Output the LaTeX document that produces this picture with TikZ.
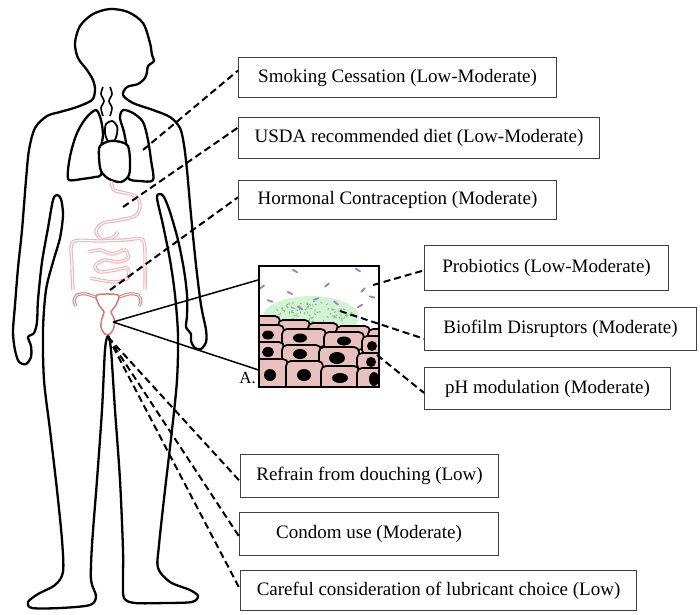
\documentclass[tikz,border=0pt]{standalone}
\usepackage{fontspec}
\setmainfont{Liberation Serif}
\usetikzlibrary{calc}
\definecolor{organ}{RGB}{214,120,120}
\definecolor{gutpink}{RGB}{236,180,180}
\definecolor{cellpink}{RGB}{232,192,190}
\definecolor{bact}{RGB}{150,128,205}
\definecolor{film}{RGB}{212,242,212}
\definecolor{filmdot}{RGB}{120,190,130}

\begin{document}
\begin{tikzpicture}[x=1pt,y=-1pt,
		body/.style={line width=2.3pt,line join=round},
		tube/.style={line width=3.4pt,gutpink},
		tubein/.style={line width=1.2pt,white},
		label/.style={draw=black!75,line width=1.1pt,anchor=north west,font=\fontsize{19}{22}\selectfont,inner xsep=0pt},
		link/.style={dash pattern=on 7pt off 4pt,line width=2pt},
		zoomline/.style={line width=1.5pt},
		cell/.style={draw=black,line width=1.7pt,fill=cellpink,rounded corners=5pt},
		bug/.style={bact,line width=1.8pt,line cap=round}]
				\useasboundingbox (0,0) rectangle (700,614);
				% body outline
				\draw[body] plot[smooth cycle,tension=0.5] coordinates {(92,100) (95,90) (93,80) (87,70) (78,58) (75,43) (80,26) (93,14) (110,9) (128,12) (143,23) (150,43) (152,55) (154,61) (148,66) (147,72) (145,78) (138,84) (127,87) (123,95) (133,103) (153,110) (170,117) (180,128) (184,145) (187,170) (191,215) (196,265) (201,305) (206,330) (206,342) (201,349) (195,348) (191,341) (191,334) (186,327) (187,316) (187,295) (184,270) (178,240) (170,212) (164,197) (160,194) (157,198) (163,225) (170,260) (175,295) (178,335) (177,380) (172,430) (165,490) (159,545) (158,568) (170,582) (190,590) (198,596) (192,602) (165,603) (135,603) (124,598) (123,580) (123,550) (120,480) (115,410) (111,350) (108,336) (105,350) (102,410) (97,480) (92,545) (91,580) (96,596) (90,605) (60,608) (32,608) (28,602) (38,594) (55,585) (63,572) (62,540) (57,490) (50,430) (44,380) (43,330) (46,290) (53,262) (60,238) (63,215) (61,199) (57,195) (53,200) (48,228) (42,262) (38,300) (37,322) (34,333) (28,337) (31,346) (31,357) (26,364) (19,362) (15,350) (13,332) (15,305) (18,268) (22,230) (26,180) (29,150) (35,128) (47,116) (60,112) (77,107)};
				% trachea
				\draw[line width=1.6pt] plot[smooth] coordinates {(103,87) (101,94) (104,101) (101,108) (103,116)};
				\draw[line width=1.6pt] plot[smooth] coordinates {(110,87) (112,94) (109,101) (112,108) (110,116)};
				% lungs
				\draw[body] plot[smooth cycle] coordinates {(96,110) (86,118) (77,133) (71,152) (68,170) (69,180) (82,179) (95,177) (101,175) (102,162) (101,148) (103,135) (101,120)};
				\draw[body] plot[smooth cycle] coordinates {(123,110) (133,113) (143,122) (148,140) (151,160) (153,180) (140,181) (129,179) (127,168) (127,150) (124,132) (120,118)};
				% heart
				\draw[line width=1.8pt,fill=white] plot[smooth cycle] coordinates {(106,124) (112,121) (117,126) (117,134) (114,141) (108,141) (105,133)};
				\draw[body,fill=white] plot[smooth cycle] coordinates {(100,146) (110,141) (121,142) (128,146) (130,160) (129,175) (121,182) (109,179) (101,171) (99,157)};
				% stomach and bowel
				\draw[tube] plot[smooth] coordinates {(111,181) (114,190) (125,193) (137,197) (140,207) (135,216) (120,220) (103,223) (96,231) (101,239) (112,238) (118,232)};
				\draw[tubein] plot[smooth] coordinates {(111,181) (114,190) (125,193) (137,197) (140,207) (135,216) (120,220) (103,223) (96,231) (101,239) (112,238) (118,232)};
				\draw[tube] plot[smooth] coordinates {(73,290) (72,265) (73,242) (100,241) (125,240) (143,240) (145,265) (145,290)};
				\draw[tubein] plot[smooth] coordinates {(73,290) (72,265) (73,242) (100,241) (125,240) (143,240) (145,265) (145,290)};
				\draw[tube] plot[smooth] coordinates {(88,252) (100,250) (112,254) (125,250) (128,258) (118,262) (104,260) (95,266) (100,272) (115,270) (127,268) (128,278) (115,282) (100,280) (90,278)};
				\draw[tubein] plot[smooth] coordinates {(88,252) (100,250) (112,254) (125,250) (128,258) (118,262) (104,260) (95,266) (100,272) (115,270) (127,268) (128,278) (115,282) (100,280) (90,278)};
				% uterus
				\draw[organ,line width=3pt] plot[smooth] coordinates {(98,298) (86,294) (77,295) (74,301) (76,306)};
				\draw[organ,line width=3pt] plot[smooth] coordinates {(117,298) (129,294) (138,295) (141,301) (139,306)};
				\draw[white,line width=1pt] plot[smooth] coordinates {(98,298) (86,294) (77,295) (74,301) (76,306)};
				\draw[white,line width=1pt] plot[smooth] coordinates {(117,298) (129,294) (138,295) (141,301) (139,306)};
				\draw[organ,line width=1.5pt,fill=white] plot[smooth cycle] coordinates {(97,295) (118,295) (116,305) (111,312) (114,318) (114,327) (110,334) (105,334) (101,327) (102,318) (104,312) (99,305)};
				% inset: bacteria, biofilm, cells
				\begin{scope}
					\clip (258,265) rectangle (378,386);
					\fill[film] (311,317) ellipse [x radius=48, y radius=21];
					\pgfmathsetseed{11}
					\foreach \i in {1,...,110}{
						\pgfmathsetmacro{\ang}{rnd*360}
						\pgfmathsetmacro{\rad}{sqrt(rnd)}
						\pgfmathsetmacro{\tilt}{rnd*180}
						\draw[filmdot,line width=0.8pt] ($(311,314)+({42*\rad*cos(\ang)},{14*\rad*sin(\ang)})$) -- ++(\tilt:2.2);
					}
					\foreach \x/\y/\a in {295/271/30,358/270/35,327/285/-40,290/293/25,270/301/20,262/287/-35,363/290/-45,372/297/15,360/306/-30,336/303/40,316/299/-20,300/308/30}
						\draw[bug] (\x,\y) ++(\a:2.5) -- ++(\a+180:5);
					\foreach \xa/\ya/\xb/\yb in {254/316/280/328,278/320/310/331,308/323/338/334,336/326/370/338,368/329/383/340,
							254/325/284/344,282/329/326/347,324/332/364/350,362/336/383/355,
							254/342/284/361,282/345/321/363,319/347/359/368,357/353/383/370,
							254/359/288/392,286/361/323/392,321/366/359/392,357/368/383/392}
						\draw[cell] (\xa,\ya) rectangle (\xb,\yb);
					\foreach \x/\y/\rx/\ry in {268/335/6/4.5,300/338/7/4.5,344/341/7/4.5,372/346/5/5,268/352/6/5,300/354/7/5,337/358/8/6,371/362/5/5,270/375/6/6,304/375/7/6,340/378/8/5,374/379/5/7}
						\fill (\x,\y) ellipse [x radius=\rx, y radius=\ry];
				\end{scope}
				\node[draw,line width=1.8pt,minimum width=120pt,minimum height=121pt,inner sep=0pt,anchor=north west] (inset) at (258,265) {};
				\node[font=\fontsize{17}{20}\selectfont,anchor=east,inner sep=1pt] (tagA) at (257,378) {A.};
				% labels
				\node[label,minimum width=318pt,minimum height=40pt] (smoke) at (238,57) {Smoking Cessation (Low-Moderate)};
				\node[label,minimum width=361pt,minimum height=41pt] (diet) at (238,117) {USDA recommended diet (Low-Moderate)};
				\node[label,minimum width=318pt,minimum height=39pt] (hormone) at (238,180) {Hormonal Contraception (Moderate)};
				\node[label,minimum width=244pt,minimum height=45pt] (probio) at (424,245) {Probiotics (Low-Moderate)};
				\node[label,minimum width=272pt,minimum height=43pt] (biofilm) at (424,307) {Biofilm Disruptors (Moderate)};
				\node[label,minimum width=246pt,minimum height=42pt] (ph) at (424,367) {pH modulation (Moderate)};
				\node[label,minimum width=258pt,minimum height=43pt] (douche) at (240,454) {Refrain from douching (Low)};
				\node[label,minimum width=259pt,minimum height=43pt] (condom) at (239,512) {Condom use (Moderate)};
				\node[label,minimum width=396pt,minimum height=40pt] (lube) at (240,570) {Careful consideration of lubricant choice (Low)};
				% connectors
				\coordinate (lung) at (143,150);
				\coordinate (gut) at (123,207);
				\coordinate (pelvis) at (110,290);
				\coordinate (cervix) at (113,322);
				\coordinate (vagina) at (108,337);
				\coordinate (bugs) at (373,285);
				\coordinate (film) at (340,311);
				\coordinate (cells) at (377,355);
				\draw[zoomline] (cervix) -- ($(inset.north west)+(0,15)$);
				\draw[zoomline] (cervix) -- ($(inset.south west)+(0,-18)$);
				\draw[link] (lung) -- ($(smoke.north west)!.33!(smoke.south west)$);
				\draw[link] (gut) -- ($(diet.north west)!.25!(diet.south west)$);
				\draw[link] (pelvis) -- ($(hormone.north west)!.43!(hormone.south west)$);
				\draw[link] (bugs) -- ($(probio.north west)!.55!(probio.south west)$);
				\draw[link] (film) -- ($(biofilm.north west)!.72!(biofilm.south west)$);
				\draw[link] (cells) -- ($(ph.north west)!.6!(ph.south west)$);
				\draw[link] (vagina) -- ($(douche.north west)!.62!(douche.south west)$);
				\draw[link] (vagina) -- ($(condom.north west)!.55!(condom.south west)$);
				\draw[link] (vagina) -- ($(lube.north west)!.47!(lube.south west)$);
			\end{tikzpicture}
\end{document}
